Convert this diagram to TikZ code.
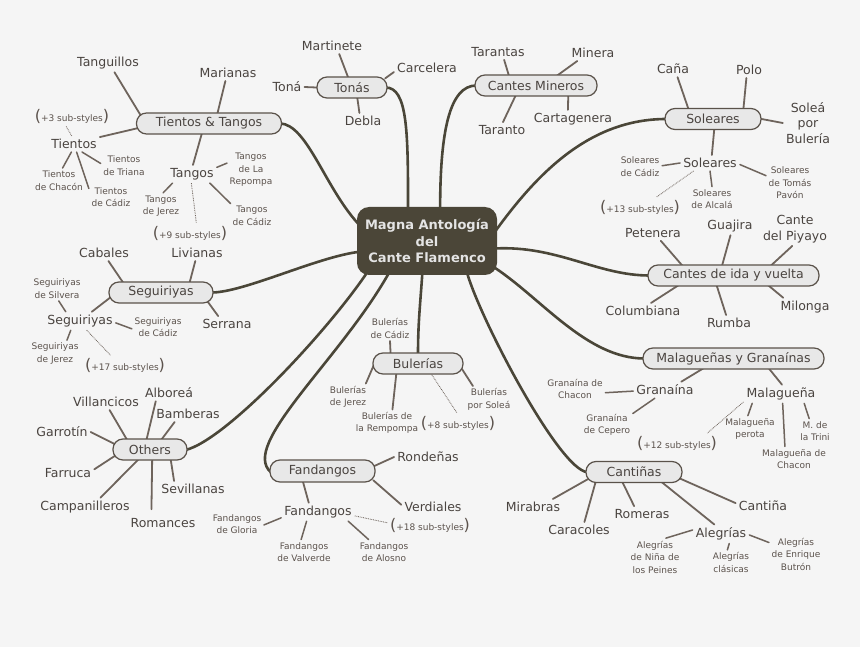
\documentclass[tikz,border=0pt]{standalone}
\usepackage{fontspec}
\setmainfont{DejaVu Sans}
\pgfdeclarelayer{back}
\pgfsetlayers{back,main}
\definecolor{bg}{HTML}{F5F5F5}
\definecolor{txt}{HTML}{4A4440}
\definecolor{stxt}{HTML}{5C534D}
\definecolor{boxfill}{HTML}{E8E8E8}
\definecolor{boxline}{HTML}{5A524A}
\definecolor{trunkc}{HTML}{4A4638}
\definecolor{twigc}{HTML}{6E645C}
\definecolor{core}{HTML}{4B4638}
\definecolor{coretxt}{HTML}{E4E4E4}
\tikzset{
 big/.style={font=\fontsize{12.5}{15.5}\selectfont, text=txt, inner sep=3pt, align=center},
 small/.style={font=\fontsize{9}{12.5}\selectfont, text=stxt, inner sep=2.5pt, align=center},
 branch/.style={big, draw=boxline, fill=boxfill, line width=1.2pt, rounded corners=10pt, minimum height=21pt, inner sep=0pt},
 trunk/.style={draw=trunkc, line width=2.6pt, line cap=round, shorten <=-2pt, shorten >=-2pt},
 twig/.style={draw=twigc, line width=1.8pt, line cap=round},
 fromb/.style={twig, shorten <=-3pt},
 leaf/.style={draw=twigc, line width=1.5pt, line cap=round},
 dotlink/.style={draw=twigc, line width=0.8pt, dash pattern=on 0.8pt off 0.9pt},
}
\newcommand{\moreof}[1]{{\fontsize{16}{16}\selectfont(}#1{\fontsize{16}{16}\selectfont)}}
\begin{document}
\begin{tikzpicture}[x=1pt,y=-1pt]
\useasboundingbox (0,0) rectangle (860,647);
% centre
\node[fill=core, rounded corners=12pt, minimum width=140pt, minimum height=68pt, inner sep=0pt,
  font=\bfseries\fontsize{13}{16.5}\selectfont, text=coretxt, align=center] (Ce) at (427,241) {Magna Antología\\del\\Cante Flamenco};
% Tientos & Tangos
\node[branch, minimum width=145pt] (TT) at (209,123.5) {Tientos \& Tangos};
\node[big] (tangui) at (108,63) {Tanguillos};
\node[big] (maria) at (228,73) {Marianas};
\node[big] (tie) at (74,144) {Tientos};
\node[small] (tiemore) at (72,116) {\moreof{+3 sub-styles}};
\node[small] (tietri) at (124,165.5) {Tientos\\de Triana};
\node[small] (tiecha) at (59,180.5) {Tientos\\de Chacón};
\node[small] (tiecad) at (111,197) {Tientos\\de Cádiz};
\node[big] (tan) at (192,174) {Tangos};
\node[small] (tanrep) at (251,170) {Tangos\\de La\\Repompa};
\node[small] (tanjer) at (161,206) {Tangos\\de Jerez};
\node[small] (tancad) at (252,216) {Tangos\\de Cádiz};
\node[small] (tanmore) at (190,233) {\moreof{+9 sub-styles}};
% Tonas
\node[branch, minimum width=70pt] (To) at (352,87.5) {Tonás};
\node[big] (marti) at (332,46) {Martinete};
\node[big] (carce) at (427,68) {Carcelera};
\node[big] (tona) at (287,87) {Toná};
\node[big] (debla) at (363,121) {Debla};
% Cantes Mineros
\node[branch, minimum width=122pt] (CM) at (536,85.5) {Cantes Mineros};
\node[big] (taras) at (498,52) {Tarantas};
\node[big] (miner) at (593,53) {Minera};
\node[big] (taran) at (502,130) {Taranto};
\node[big] (carta) at (573,119) {Cartagenera};
% Soleares
\node[branch, minimum width=96pt] (So) at (713,119) {Soleares};
\node[big] (cana) at (673,69) {Caña};
\node[big] (polo) at (749,70) {Polo};
\node[big] (solpb) at (808,123) {Soleá\\por\\Bulería};
\node[big] (sol) at (710,163) {Soleares};
\node[small] (solcad) at (640,166.5) {Soleares\\de Cádiz};
\node[small] (soltom) at (790,183) {Soleares\\de Tomás\\Pavón};
\node[small] (solalc) at (712,199) {Soleares\\de Alcalá};
\node[small] (solmore) at (640,207) {\moreof{+13 sub-styles}};
% Cantes de ida y vuelta
\node[branch, minimum width=171pt] (CI) at (733.5,275.5) {Cantes de ida y vuelta};
\node[big] (pete) at (653,233) {Petenera};
\node[big] (guaj) at (730,226) {Guajira};
\node[big] (piya) at (795,229) {Cante\\del Piyayo};
\node[big] (colu) at (643,311) {Columbiana};
\node[big] (rumba) at (729,323) {Rumba};
\node[big] (milo) at (805,307) {Milonga};
% Malaguenas y Granainas
\node[branch, minimum width=181pt] (MG) at (733.5,358.5) {Malagueñas y Granaínas};
\node[big] (gran) at (665,390) {Granaína};
\node[small] (granch) at (575,389) {Granaína de\\Chacon};
\node[small] (grance) at (607,425) {Granaína\\de Cepero};
\node[big] (mal) at (781,394) {Malagueña};
\node[small] (malmore) at (677,443) {\moreof{+12 sub-styles}};
\node[small] (malper) at (750,429) {Malagueña\\perota};
\node[small] (malch) at (794,459) {Malagueña de\\Chacon};
\node[small] (maltri) at (815,431) {M. de\\la Trini};
% Cantinas
\node[branch, minimum width=96pt] (Ca) at (634,472) {Cantiñas};
\node[big] (mira) at (533,507) {Mirabras};
\node[big] (cara) at (579,530) {Caracoles};
\node[big] (rome) at (642,514) {Romeras};
\node[big] (canti) at (763,506) {Cantiña};
\node[big] (aleg) at (721,534) {Alegrías};
\node[small] (alegni) at (655,557) {Alegrías\\de Niña de\\los Peines};
\node[small] (alegcl) at (731,562.5) {Alegrías\\clásicas};
\node[small] (alegbu) at (796,554) {Alegrías\\de Enrique\\Butrón};
% Fandangos
\node[branch, minimum width=105pt, minimum height=22pt] (Fa) at (322.5,471) {Fandangos};
\node[big] (ronde) at (428,457) {Rondeñas};
\node[big] (verdi) at (433,507) {Verdiales};
\node[big] (fan) at (318,512) {Fandangos};
\node[small] (fanglo) at (237,524) {Fandangos\\de Gloria};
\node[small] (fanval) at (304,552) {Fandangos\\de Valverde};
\node[small] (fanalo) at (384,552) {Fandangos\\de Alosno};
\node[small] (fanmore) at (430,525) {\moreof{+18 sub-styles}};
% Others
\node[branch, minimum width=74pt] (Ot) at (150,449.5) {Others};
\node[big] (villa) at (106,402) {Villancicos};
\node[big] (albo) at (169,393) {Alboreá};
\node[big] (bamb) at (188,414) {Bamberas};
\node[big] (garro) at (62,432) {Garrotín};
\node[big] (farru) at (68,473) {Farruca};
\node[big] (campa) at (85,507) {Campanilleros};
\node[big] (roman) at (163,523) {Romances};
\node[big] (sevi) at (193,489) {Sevillanas};
% Seguiriyas
\node[branch, minimum width=104pt] (Se) at (161,292.5) {Seguiriyas};
\node[big] (caba) at (104,253) {Cabales};
\node[big] (livi) at (197,253) {Livianas};
\node[big] (serra) at (227,324) {Serrana};
\node[big] (seg) at (80,321) {Seguiriyas};
\node[small] (segsil) at (57,288.5) {Seguiriyas\\de Silvera};
\node[small] (segcad) at (158,327) {Seguiriyas\\de Cádiz};
\node[small] (segjer) at (55,353.5) {Seguiriyas\\de Jerez};
\node[small] (segmore) at (125,365) {\moreof{+17 sub-styles}};
% Bulerias
\node[branch, minimum width=90pt] (Bu) at (418,363.5) {Bulerías};
\node[small] (bulcad) at (390,328.5) {Bulerías\\de Cádiz};
\node[small] (buljer) at (348,397) {Bulerías\\de Jerez};
\node[small] (bulrem) at (387,423) {Bulerías de\\la Rempompa};
\node[small] (bulsol) at (489,399.5) {Bulerías\\por Soleá};
\node[small] (bulmore) at (458,423) {\moreof{+8 sub-styles}};

\begin{pgfonlayer}{back}
\fill[bg] (0,0) rectangle (860,647);
% trunks
\draw[trunk] (TT.east) .. controls +(25,1) and +(-32,-35) .. (Ce.165);
\draw[trunk] (To.east) .. controls +(20,0) and +(0,-75) .. (Ce.119);
\draw[trunk] (CM.west) .. controls +(-25,0) and +(0,-75) .. (Ce.69);
\draw[trunk] (So.west) .. controls +(-75,0) and +(40,-55) .. (Ce.10);
\draw[trunk] (Ce.-6) .. controls +(60,-3) and +(-50,0) .. (CI.west);
\draw[trunk] (Ce.-22) .. controls +(45,30) and +(-55,0) .. (MG.west);
\draw[trunk] (Ce.-40) .. controls +(13,45) and +(-26,-2) .. (Ca.west);
\draw[trunk] (Ce.-98) .. controls +(-2,30) and +(0,-30) .. (Bu.north);
\draw[trunk] (Ce.-139) .. controls +(-48,85) and +(-30,-26) .. (Fa.west);
\draw[trunk] (Ce.-151) .. controls +(-41,60) and +(38,-9.5) .. (Ot.east);
\draw[trunk] (Se.east) .. controls +(30,0) and +(-40,5) .. (Ce.189);
% Tientos & Tangos
\draw[fromb] (TT.171) -- (tangui.-55);
\draw[fromb] (TT.52) -- (maria.-108);
\draw[fromb] (TT.184) -- (tie.15);
\draw[fromb] (TT.236) -- (tan.84);
\draw[dotlink] (tie.106) -- (tiemore.-122);
\draw[leaf] (tie.-45) -- (tietri.175);
\draw[leaf] (tie.-108) -- (tiecha.74);
\draw[leaf] (tie.-72) -- (tiecad.159);
\draw[leaf] (tan.15) -- (tanrep.164);
\draw[leaf] (tan.205) -- (tanjer.81);
\draw[leaf] (tan.-27) -- (tancad.150);
\draw[dotlink] (tan.-94) -- (tanmore.57);
% Tonas
\draw[fromb] (To.111) -- (marti.-48);
\draw[fromb] (To.17) -- (carce.187);
\draw[fromb] (To.180) -- (tona.0);
\draw[fromb] (To.-64) -- (debla.114);
% Cantes Mineros
\draw[fromb] (CM.158) -- (taras.-52);
\draw[fromb] (CM.26) -- (miner.-153);
\draw[fromb] (CM.-152) -- (taran.83);
\draw[fromb] (CM.-19) -- (carta.119);
% Soleares
\draw[fromb] (So.156) -- (cana.-61);
\draw[fromb] (So.20) -- (polo.-108);
\draw[fromb] (So.0) -- (solpb.180);
\draw[fromb] (So.-84) -- (sol.77);
\draw[leaf] (sol.180) -- (solcad.2);
\draw[leaf] (sol.-3) -- (soltom.163);
\draw[leaf] (sol.-90) -- (solalc.90);
\draw[dotlink] (sol.-154) -- (solmore.31);
% Cantes de ida y vuelta
\draw[fromb] (CI.168) -- (pete.-45);
\draw[fromb] (CI.135) -- (guaj.-87);
\draw[fromb] (CI.16) -- (piya.-99);
\draw[fromb] (CI.191) -- (colu.45);
\draw[fromb] (CI.-146) -- (rumba.110);
\draw[fromb] (CI.-17) -- (milo.157);
% Malaguenas
\draw[fromb] (MG.199) -- (gran.27);
\draw[fromb] (MG.-17) -- (mal.84);
\draw[leaf] (gran.182) -- (granch.-7);
\draw[leaf] (gran.-141) -- (grance.24);
\draw[dotlink] (mal.-168) -- (malmore.18);
\draw[leaf] (mal.-162) -- (malper.99);
\draw[leaf] (mal.-80) -- (malch.126);
\draw[leaf] (mal.-22) -- (maltri.115);
% Cantinas
\draw[fromb] (Ca.190) -- (mira.22);
\draw[fromb] (Ca.-164) -- (cara.56);
\draw[fromb] (Ca.-135) -- (rome.135);
\draw[fromb] (Ca.-21) -- (aleg.125);
\draw[fromb] (Ca.-9) -- (canti.174);
\draw[leaf] (aleg.172) -- (alegni.60);
\draw[leaf] (aleg.-49) -- (alegcl.106);
\draw[leaf] (aleg.-2) -- (alegbu.157);
% Fandangos
\draw[fromb] (Fa.6) -- (ronde.180);
\draw[fromb] (Fa.-12) -- (verdi.176);
\draw[fromb] (Fa.-149) -- (fan.135);
\draw[leaf] (fan.189) -- (fanglo.-2);
\draw[leaf] (fan.-141) -- (fanval.103);
\draw[leaf] (fan.-17) -- (fanalo.141);
\draw[dotlink] (fan.-6) -- (fanmore.177);
% Others
\draw[fromb] (Ot.155) -- (villa.-66);
\draw[fromb] (Ot.106) -- (albo.-148);
\draw[fromb] (Ot.42) -- (bamb.-149);
\draw[fromb] (Ot.170) -- (garro.0);
\draw[fromb] (Ot.192) -- (farru.8);
\draw[fromb] (Ot.-139) -- (campa.31);
\draw[fromb, shorten >=6pt] (Ot.-79) -- (roman.146);
\draw[fromb] (Ot.-28) -- (sevi.157);
% Seguiriyas
\draw[fromb] (Se.164) -- (caba.-61);
\draw[fromb] (Se.21) -- (livi.-102);
\draw[fromb] (Se.-13) -- (serra.138);
\draw[fromb] (Se.187) -- (seg.38);
\draw[leaf] (seg.147) -- (segsil.-82);
\draw[leaf] (seg.-3) -- (segcad.184);
\draw[leaf] (seg.-135) -- (segjer.48);
\draw[dotlink] (seg.-54) -- (segmore.146);
% Bulerias
\draw[fromb] (Bu.158) -- (bulcad.-90);
\draw[fromb] (Bu.186) -- (buljer.37);
\draw[fromb] (Bu.-153) -- (bulrem.68);
\draw[fromb] (Bu.-10) -- (bulsol.140);
\draw[dotlink, shorten <=-3pt] (Bu.-39) -- (bulmore.95);
\end{pgfonlayer}
\end{tikzpicture}
\end{document}
